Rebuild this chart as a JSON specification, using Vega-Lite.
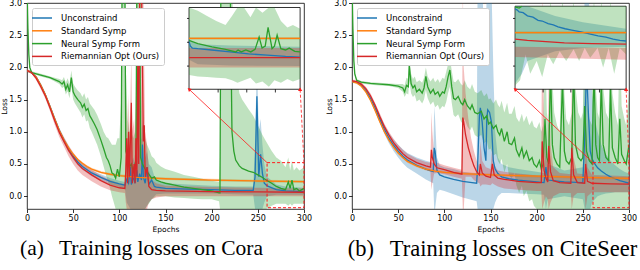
{
"$schema": "https://vega.github.io/schema/vega-lite/v6.json",
"padding": {"left": 0, "top": -2, "right": 0, "bottom": 0},
"spacing": 12,
"datasets": {
"m": [
{"p":"a","s":"U","x":0,"y":1.95,"l":1.93,"h":1.97},
{"p":"a","s":"U","x":5,"y":1.92,"l":1.9,"h":1.94},
{"p":"a","s":"U","x":10,"y":1.85,"l":1.83,"h":1.87},
{"p":"a","s":"U","x":15,"y":1.72,"l":1.69,"h":1.75},
{"p":"a","s":"U","x":20,"y":1.57,"l":1.54,"h":1.6},
{"p":"a","s":"U","x":25,"y":1.39,"l":1.36,"h":1.42},
{"p":"a","s":"U","x":30,"y":1.2,"l":1.16,"h":1.24},
{"p":"a","s":"U","x":35,"y":1.02,"l":0.98,"h":1.06},
{"p":"a","s":"U","x":40,"y":0.87,"l":0.82,"h":0.91},
{"p":"a","s":"U","x":45,"y":0.74,"l":0.69,"h":0.78},
{"p":"a","s":"U","x":50,"y":0.62,"l":0.57,"h":0.66},
{"p":"a","s":"U","x":55,"y":0.53,"l":0.48,"h":0.57},
{"p":"a","s":"U","x":60,"y":0.46,"l":0.41,"h":0.5},
{"p":"a","s":"U","x":70,"y":0.36,"l":0.31,"h":0.4},
{"p":"a","s":"U","x":80,"y":0.29,"l":0.24,"h":0.34},
{"p":"a","s":"U","x":90,"y":0.23,"l":0.18,"h":0.28},
{"p":"a","s":"U","x":100,"y":0.19,"l":0.14,"h":0.24},
{"p":"a","s":"U","x":106,"y":0.17,"l":0.12,"h":0.22},
{"p":"a","s":"U","x":108,"y":0.26,"l":-0.1,"h":0.5},
{"p":"a","s":"U","x":110,"y":0.2,"l":-0.15,"h":0.55},
{"p":"a","s":"U","x":112,"y":0.45,"l":-0.2,"h":0.8},
{"p":"a","s":"U","x":113,"y":0.18,"l":-0.2,"h":0.5},
{"p":"a","s":"U","x":115,"y":0.3,"l":-0.2,"h":0.6},
{"p":"a","s":"U","x":117,"y":0.2,"l":-0.2,"h":0.5},
{"p":"a","s":"U","x":119,"y":0.4,"l":-0.2,"h":0.7},
{"p":"a","s":"U","x":120,"y":0.22,"l":-0.2,"h":0.6},
{"p":"a","s":"U","x":122,"y":0.35,"l":-0.2,"h":0.8},
{"p":"a","s":"U","x":124,"y":0.25,"l":-0.2,"h":0.9},
{"p":"a","s":"U","x":125,"y":0.8,"l":-0.2,"h":1.2},
{"p":"a","s":"U","x":126,"y":0.3,"l":-0.2,"h":0.8},
{"p":"a","s":"U","x":128,"y":0.2,"l":-0.2,"h":0.6},
{"p":"a","s":"U","x":130,"y":0.45,"l":-0.15,"h":0.7},
{"p":"a","s":"U","x":132,"y":0.18,"l":-0.1,"h":0.5},
{"p":"a","s":"U","x":135,"y":0.25,"l":-0.05,"h":0.45},
{"p":"a","s":"U","x":138,"y":0.15,"l":0.0,"h":0.3},
{"p":"a","s":"U","x":140,"y":0.14,"l":0.03,"h":0.25},
{"p":"a","s":"U","x":150,"y":0.12,"l":0.04,"h":0.2},
{"p":"a","s":"U","x":175,"y":0.11,"l":0.04,"h":0.18},
{"p":"a","s":"U","x":200,"y":0.1,"l":0.04,"h":0.16},
{"p":"a","s":"U","x":225,"y":0.09,"l":0.03,"h":0.15},
{"p":"a","s":"U","x":245,"y":0.09,"l":0.02,"h":0.15},
{"p":"a","s":"U","x":247,"y":0.3,"l":-0.2,"h":0.8},
{"p":"a","s":"U","x":249,"y":1.55,"l":-0.2,"h":2.2},
{"p":"a","s":"U","x":251,"y":0.3,"l":-0.2,"h":1.0},
{"p":"a","s":"U","x":253,"y":0.65,"l":-0.2,"h":1.2},
{"p":"a","s":"U","x":255,"y":0.35,"l":-0.2,"h":0.8},
{"p":"a","s":"U","x":257,"y":0.2,"l":-0.1,"h":0.5},
{"p":"a","s":"U","x":260,"y":0.16,"l":0.0,"h":0.3},
{"p":"a","s":"U","x":270,"y":0.1,"l":0.02,"h":0.18},
{"p":"a","s":"U","x":280,"y":0.08,"l":0.02,"h":0.15},
{"p":"a","s":"U","x":300,"y":0.07,"l":0.02,"h":0.13},
{"p":"a","s":"S","x":0,"y":1.95,"l":1.93,"h":1.97},
{"p":"a","s":"S","x":5,"y":1.92,"l":1.9,"h":1.94},
{"p":"a","s":"S","x":10,"y":1.85,"l":1.83,"h":1.87},
{"p":"a","s":"S","x":15,"y":1.72,"l":1.7,"h":1.74},
{"p":"a","s":"S","x":20,"y":1.57,"l":1.55,"h":1.59},
{"p":"a","s":"S","x":25,"y":1.39,"l":1.37,"h":1.41},
{"p":"a","s":"S","x":30,"y":1.2,"l":1.18,"h":1.22},
{"p":"a","s":"S","x":35,"y":1.02,"l":1.0,"h":1.04},
{"p":"a","s":"S","x":40,"y":0.87,"l":0.85,"h":0.89},
{"p":"a","s":"S","x":45,"y":0.75,"l":0.73,"h":0.77},
{"p":"a","s":"S","x":50,"y":0.65,"l":0.63,"h":0.67},
{"p":"a","s":"S","x":55,"y":0.57,"l":0.55,"h":0.59},
{"p":"a","s":"S","x":60,"y":0.51,"l":0.49,"h":0.53},
{"p":"a","s":"S","x":65,"y":0.46,"l":0.44,"h":0.48},
{"p":"a","s":"S","x":70,"y":0.42,"l":0.4,"h":0.44},
{"p":"a","s":"S","x":80,"y":0.37,"l":0.35,"h":0.39},
{"p":"a","s":"S","x":90,"y":0.34,"l":0.32,"h":0.36},
{"p":"a","s":"S","x":100,"y":0.32,"l":0.3,"h":0.34},
{"p":"a","s":"S","x":120,"y":0.29,"l":0.27,"h":0.31},
{"p":"a","s":"S","x":150,"y":0.27,"l":0.25,"h":0.29},
{"p":"a","s":"S","x":200,"y":0.25,"l":0.23,"h":0.27},
{"p":"a","s":"S","x":250,"y":0.235,"l":0.215,"h":0.255},
{"p":"a","s":"S","x":300,"y":0.225,"l":0.205,"h":0.245},
{"p":"a","s":"N","x":0,"y":3.3,"l":3.2,"h":3.4},
{"p":"a","s":"N","x":1,"y":2.6,"l":2.5,"h":2.7},
{"p":"a","s":"N","x":2,"y":2.2,"l":2.15,"h":2.25},
{"p":"a","s":"N","x":3,"y":2.0,"l":1.97,"h":2.03},
{"p":"a","s":"N","x":5,"y":1.92,"l":1.9,"h":1.94},
{"p":"a","s":"N","x":10,"y":1.9,"l":1.88,"h":1.92},
{"p":"a","s":"N","x":15,"y":1.88,"l":1.86,"h":1.9},
{"p":"a","s":"N","x":20,"y":1.86,"l":1.84,"h":1.88},
{"p":"a","s":"N","x":25,"y":1.84,"l":1.82,"h":1.86},
{"p":"a","s":"N","x":30,"y":1.81,"l":1.78,"h":1.84},
{"p":"a","s":"N","x":35,"y":1.78,"l":1.74,"h":1.82},
{"p":"a","s":"N","x":38,"y":1.74,"l":1.68,"h":1.8},
{"p":"a","s":"N","x":40,"y":1.78,"l":1.7,"h":1.85},
{"p":"a","s":"N","x":42,"y":1.66,"l":1.58,"h":1.76},
{"p":"a","s":"N","x":44,"y":1.73,"l":1.63,"h":1.83},
{"p":"a","s":"N","x":46,"y":1.62,"l":1.52,"h":1.74},
{"p":"a","s":"N","x":48,"y":1.84,"l":1.7,"h":1.95},
{"p":"a","s":"N","x":50,"y":1.62,"l":1.5,"h":1.75},
{"p":"a","s":"N","x":52,"y":1.56,"l":1.44,"h":1.7},
{"p":"a","s":"N","x":55,"y":1.5,"l":1.37,"h":1.64},
{"p":"a","s":"N","x":58,"y":1.45,"l":1.3,"h":1.6},
{"p":"a","s":"N","x":60,"y":1.38,"l":1.22,"h":1.54},
{"p":"a","s":"N","x":62,"y":1.43,"l":1.27,"h":1.6},
{"p":"a","s":"N","x":64,"y":1.33,"l":1.16,"h":1.5},
{"p":"a","s":"N","x":66,"y":1.36,"l":1.18,"h":1.54},
{"p":"a","s":"N","x":68,"y":1.25,"l":1.06,"h":1.44},
{"p":"a","s":"N","x":70,"y":1.2,"l":1.0,"h":1.4},
{"p":"a","s":"N","x":73,"y":1.12,"l":0.9,"h":1.34},
{"p":"a","s":"N","x":76,"y":1.03,"l":0.8,"h":1.26},
{"p":"a","s":"N","x":80,"y":0.87,"l":0.62,"h":1.12},
{"p":"a","s":"N","x":83,"y":0.74,"l":0.46,"h":1.0},
{"p":"a","s":"N","x":86,"y":0.6,"l":0.3,"h":0.92},
{"p":"a","s":"N","x":88,"y":0.55,"l":0.22,"h":0.9},
{"p":"a","s":"N","x":90,"y":0.47,"l":0.12,"h":0.85},
{"p":"a","s":"N","x":92,"y":0.36,"l":0.0,"h":0.8},
{"p":"a","s":"N","x":94,"y":0.34,"l":-0.1,"h":0.8},
{"p":"a","s":"N","x":96,"y":0.28,"l":-0.2,"h":0.8},
{"p":"a","s":"N","x":98,"y":0.42,"l":-0.2,"h":0.9},
{"p":"a","s":"N","x":100,"y":0.3,"l":-0.2,"h":0.9},
{"p":"a","s":"N","x":102,"y":0.6,"l":-0.2,"h":1.5},
{"p":"a","s":"N","x":103,"y":3.4,"l":-0.2,"h":3.4},
{"p":"a","s":"N","x":106,"y":3.4,"l":-0.2,"h":3.4},
{"p":"a","s":"N","x":107,"y":0.7,"l":-0.2,"h":2.0},
{"p":"a","s":"N","x":109,"y":0.6,"l":-0.2,"h":1.2},
{"p":"a","s":"N","x":111,"y":0.45,"l":-0.2,"h":1.0},
{"p":"a","s":"N","x":113,"y":0.5,"l":-0.2,"h":1.0},
{"p":"a","s":"N","x":115,"y":0.38,"l":-0.2,"h":0.9},
{"p":"a","s":"N","x":117,"y":0.5,"l":-0.2,"h":1.0},
{"p":"a","s":"N","x":118,"y":0.45,"l":-0.2,"h":1.5},
{"p":"a","s":"N","x":119,"y":3.4,"l":-0.2,"h":3.4},
{"p":"a","s":"N","x":122,"y":3.4,"l":-0.2,"h":3.4},
{"p":"a","s":"N","x":123,"y":0.6,"l":-0.2,"h":2.0},
{"p":"a","s":"N","x":125,"y":0.5,"l":-0.2,"h":1.1},
{"p":"a","s":"N","x":128,"y":0.42,"l":-0.2,"h":0.9},
{"p":"a","s":"N","x":130,"y":0.38,"l":-0.15,"h":0.8},
{"p":"a","s":"N","x":133,"y":0.32,"l":-0.1,"h":0.7},
{"p":"a","s":"N","x":135,"y":0.28,"l":-0.05,"h":0.62},
{"p":"a","s":"N","x":138,"y":0.3,"l":-0.02,"h":0.58},
{"p":"a","s":"N","x":140,"y":0.25,"l":0.0,"h":0.52},
{"p":"a","s":"N","x":145,"y":0.22,"l":0.0,"h":0.46},
{"p":"a","s":"N","x":150,"y":0.2,"l":0.0,"h":0.42},
{"p":"a","s":"N","x":160,"y":0.17,"l":-0.02,"h":0.38},
{"p":"a","s":"N","x":170,"y":0.14,"l":-0.03,"h":0.33},
{"p":"a","s":"N","x":180,"y":0.12,"l":-0.04,"h":0.3},
{"p":"a","s":"N","x":190,"y":0.1,"l":-0.05,"h":0.27},
{"p":"a","s":"N","x":200,"y":0.08,"l":-0.05,"h":0.24},
{"p":"a","s":"N","x":208,"y":0.05,"l":-0.08,"h":0.22},
{"p":"a","s":"N","x":209,"y":0.05,"l":-0.2,"h":0.6},
{"p":"a","s":"N","x":210,"y":3.4,"l":-0.3,"h":3.4},
{"p":"a","s":"N","x":220,"y":3.4,"l":-0.3,"h":3.4},
{"p":"a","s":"N","x":222,"y":1.0,"l":-0.3,"h":3.2},
{"p":"a","s":"N","x":224,"y":0.7,"l":-0.3,"h":2.6},
{"p":"a","s":"N","x":226,"y":0.56,"l":-0.3,"h":2.0},
{"p":"a","s":"N","x":230,"y":0.47,"l":-0.3,"h":1.6},
{"p":"a","s":"N","x":233,"y":0.43,"l":-0.3,"h":1.5},
{"p":"a","s":"N","x":240,"y":0.39,"l":-0.3,"h":1.35},
{"p":"a","s":"N","x":245,"y":0.37,"l":-0.3,"h":1.25},
{"p":"a","s":"N","x":250,"y":0.33,"l":-0.3,"h":1.1},
{"p":"a","s":"N","x":255,"y":0.29,"l":-0.25,"h":0.95},
{"p":"a","s":"N","x":259,"y":0.25,"l":-0.2,"h":0.85},
{"p":"a","s":"N","x":265,"y":0.2,"l":-0.15,"h":0.7},
{"p":"a","s":"N","x":270,"y":0.15,"l":-0.12,"h":0.6},
{"p":"a","s":"N","x":275,"y":0.12,"l":-0.12,"h":0.55},
{"p":"a","s":"N","x":280,"y":0.1,"l":-0.12,"h":0.45},
{"p":"a","s":"N","x":283,"y":0.22,"l":-0.15,"h":0.6},
{"p":"a","s":"N","x":285,"y":0.12,"l":-0.12,"h":0.4},
{"p":"a","s":"N","x":287,"y":0.25,"l":-0.15,"h":0.55},
{"p":"a","s":"N","x":289,"y":0.1,"l":-0.12,"h":0.4},
{"p":"a","s":"N","x":292,"y":0.12,"l":-0.12,"h":0.45},
{"p":"a","s":"N","x":295,"y":0.08,"l":-0.12,"h":0.4},
{"p":"a","s":"N","x":300,"y":0.12,"l":-0.12,"h":0.45},
{"p":"a","s":"R","x":0,"y":1.95,"l":1.93,"h":1.97},
{"p":"a","s":"R","x":5,"y":1.92,"l":1.9,"h":1.94},
{"p":"a","s":"R","x":10,"y":1.83,"l":1.8,"h":1.86},
{"p":"a","s":"R","x":15,"y":1.7,"l":1.66,"h":1.74},
{"p":"a","s":"R","x":20,"y":1.55,"l":1.51,"h":1.59},
{"p":"a","s":"R","x":25,"y":1.37,"l":1.32,"h":1.42},
{"p":"a","s":"R","x":30,"y":1.17,"l":1.11,"h":1.23},
{"p":"a","s":"R","x":35,"y":0.99,"l":0.92,"h":1.05},
{"p":"a","s":"R","x":40,"y":0.85,"l":0.77,"h":0.92},
{"p":"a","s":"R","x":45,"y":0.71,"l":0.62,"h":0.79},
{"p":"a","s":"R","x":50,"y":0.6,"l":0.5,"h":0.68},
{"p":"a","s":"R","x":55,"y":0.5,"l":0.4,"h":0.58},
{"p":"a","s":"R","x":60,"y":0.43,"l":0.33,"h":0.51},
{"p":"a","s":"R","x":70,"y":0.33,"l":0.23,"h":0.41},
{"p":"a","s":"R","x":80,"y":0.24,"l":0.15,"h":0.32},
{"p":"a","s":"R","x":90,"y":0.17,"l":0.09,"h":0.25},
{"p":"a","s":"R","x":100,"y":0.13,"l":0.06,"h":0.2},
{"p":"a","s":"R","x":106,"y":0.12,"l":0.05,"h":0.19},
{"p":"a","s":"R","x":107,"y":0.4,"l":-0.1,"h":0.8},
{"p":"a","s":"R","x":108,"y":0.9,"l":-0.2,"h":1.5},
{"p":"a","s":"R","x":109,"y":0.2,"l":-0.2,"h":0.8},
{"p":"a","s":"R","x":110,"y":1.0,"l":-0.2,"h":1.6},
{"p":"a","s":"R","x":111,"y":0.3,"l":-0.2,"h":0.9},
{"p":"a","s":"R","x":113,"y":1.45,"l":-0.2,"h":2.2},
{"p":"a","s":"R","x":114,"y":0.2,"l":-0.2,"h":1.0},
{"p":"a","s":"R","x":116,"y":0.5,"l":-0.2,"h":1.2},
{"p":"a","s":"R","x":117,"y":0.2,"l":-0.2,"h":0.8},
{"p":"a","s":"R","x":118,"y":0.9,"l":-0.2,"h":1.8},
{"p":"a","s":"R","x":119,"y":0.3,"l":-0.2,"h":1.0},
{"p":"a","s":"R","x":120,"y":2.1,"l":-0.2,"h":3.2},
{"p":"a","s":"R","x":121,"y":0.5,"l":-0.2,"h":2.0},
{"p":"a","s":"R","x":122,"y":3.3,"l":-0.2,"h":3.3},
{"p":"a","s":"R","x":124,"y":3.3,"l":-0.2,"h":3.3},
{"p":"a","s":"R","x":125,"y":2.1,"l":-0.2,"h":3.3},
{"p":"a","s":"R","x":126,"y":0.85,"l":-0.2,"h":3.3},
{"p":"a","s":"R","x":127,"y":1.1,"l":-0.2,"h":2.0},
{"p":"a","s":"R","x":128,"y":0.3,"l":-0.2,"h":1.0},
{"p":"a","s":"R","x":130,"y":0.45,"l":-0.2,"h":0.8},
{"p":"a","s":"R","x":132,"y":0.15,"l":-0.1,"h":0.4},
{"p":"a","s":"R","x":135,"y":0.1,"l":-0.05,"h":0.25},
{"p":"a","s":"R","x":140,"y":0.09,"l":-0.02,"h":0.2},
{"p":"a","s":"R","x":150,"y":0.08,"l":0.0,"h":0.16},
{"p":"a","s":"R","x":200,"y":0.07,"l":0.0,"h":0.14},
{"p":"a","s":"R","x":250,"y":0.065,"l":0.0,"h":0.13},
{"p":"a","s":"R","x":300,"y":0.06,"l":0.0,"h":0.12},
{"p":"b","s":"U","x":0,"y":1.78,"l":1.76,"h":1.8},
{"p":"b","s":"U","x":5,"y":1.77,"l":1.75,"h":1.79},
{"p":"b","s":"U","x":10,"y":1.72,"l":1.7,"h":1.75},
{"p":"b","s":"U","x":15,"y":1.64,"l":1.61,"h":1.67},
{"p":"b","s":"U","x":20,"y":1.52,"l":1.48,"h":1.56},
{"p":"b","s":"U","x":25,"y":1.37,"l":1.32,"h":1.42},
{"p":"b","s":"U","x":30,"y":1.2,"l":1.14,"h":1.26},
{"p":"b","s":"U","x":35,"y":1.04,"l":0.97,"h":1.11},
{"p":"b","s":"U","x":40,"y":0.9,"l":0.82,"h":0.98},
{"p":"b","s":"U","x":45,"y":0.79,"l":0.7,"h":0.88},
{"p":"b","s":"U","x":50,"y":0.7,"l":0.6,"h":0.8},
{"p":"b","s":"U","x":55,"y":0.62,"l":0.51,"h":0.73},
{"p":"b","s":"U","x":60,"y":0.56,"l":0.44,"h":0.67},
{"p":"b","s":"U","x":70,"y":0.48,"l":0.35,"h":0.6},
{"p":"b","s":"U","x":80,"y":0.42,"l":0.26,"h":0.55},
{"p":"b","s":"U","x":88,"y":0.38,"l":0.2,"h":0.52},
{"p":"b","s":"U","x":89,"y":0.75,"l":-0.2,"h":1.4},
{"p":"b","s":"U","x":90,"y":0.7,"l":-0.2,"h":1.2},
{"p":"b","s":"U","x":92,"y":0.4,"l":0.05,"h":0.6},
{"p":"b","s":"U","x":95,"y":0.33,"l":0.1,"h":0.48},
{"p":"b","s":"U","x":100,"y":0.3,"l":0.08,"h":0.45},
{"p":"b","s":"U","x":110,"y":0.26,"l":0.03,"h":0.42},
{"p":"b","s":"U","x":120,"y":0.23,"l":-0.02,"h":0.38},
{"p":"b","s":"U","x":130,"y":0.21,"l":-0.06,"h":0.36},
{"p":"b","s":"U","x":135,"y":0.2,"l":-0.08,"h":0.36},
{"p":"b","s":"U","x":136,"y":0.45,"l":-0.2,"h":3.3},
{"p":"b","s":"U","x":138,"y":1.25,"l":-0.2,"h":3.3},
{"p":"b","s":"U","x":139,"y":1.37,"l":-0.2,"h":3.3},
{"p":"b","s":"U","x":141,"y":1.15,"l":-0.2,"h":3.3},
{"p":"b","s":"U","x":143,"y":0.75,"l":-0.2,"h":2.5},
{"p":"b","s":"U","x":145,"y":0.55,"l":-0.2,"h":2.5},
{"p":"b","s":"U","x":146,"y":1.2,"l":-0.2,"h":3.3},
{"p":"b","s":"U","x":147,"y":1.34,"l":-0.2,"h":3.3},
{"p":"b","s":"U","x":149,"y":1.3,"l":-0.2,"h":3.3},
{"p":"b","s":"U","x":151,"y":1.15,"l":-0.2,"h":3.3},
{"p":"b","s":"U","x":153,"y":0.55,"l":-0.2,"h":2.0},
{"p":"b","s":"U","x":155,"y":0.42,"l":-0.1,"h":1.0},
{"p":"b","s":"U","x":158,"y":0.35,"l":0.0,"h":0.6},
{"p":"b","s":"U","x":162,"y":0.3,"l":0.05,"h":0.5},
{"p":"b","s":"U","x":170,"y":0.27,"l":0.05,"h":0.45},
{"p":"b","s":"U","x":180,"y":0.25,"l":0.04,"h":0.42},
{"p":"b","s":"U","x":200,"y":0.22,"l":0.03,"h":0.38},
{"p":"b","s":"U","x":208,"y":0.21,"l":0.02,"h":0.36},
{"p":"b","s":"U","x":210,"y":0.45,"l":-0.2,"h":1.0},
{"p":"b","s":"U","x":212,"y":0.25,"l":-0.05,"h":0.5},
{"p":"b","s":"U","x":230,"y":0.22,"l":0.0,"h":0.4},
{"p":"b","s":"U","x":250,"y":0.21,"l":-0.05,"h":0.45},
{"p":"b","s":"U","x":252,"y":0.9,"l":-0.2,"h":3.3},
{"p":"b","s":"U","x":254,"y":2.0,"l":-0.2,"h":3.3},
{"p":"b","s":"U","x":256,"y":1.3,"l":-0.2,"h":3.3},
{"p":"b","s":"U","x":258,"y":0.7,"l":-0.2,"h":2.5},
{"p":"b","s":"U","x":260,"y":0.58,"l":-0.1,"h":1.6},
{"p":"b","s":"U","x":263,"y":0.5,"l":-0.05,"h":1.2},
{"p":"b","s":"U","x":266,"y":0.44,"l":0.0,"h":1.0},
{"p":"b","s":"U","x":270,"y":0.39,"l":0.02,"h":0.8},
{"p":"b","s":"U","x":275,"y":0.34,"l":0.04,"h":0.65},
{"p":"b","s":"U","x":280,"y":0.3,"l":0.05,"h":0.55},
{"p":"b","s":"U","x":285,"y":0.27,"l":0.06,"h":0.48},
{"p":"b","s":"U","x":290,"y":0.24,"l":0.06,"h":0.42},
{"p":"b","s":"U","x":295,"y":0.22,"l":0.06,"h":0.38},
{"p":"b","s":"U","x":300,"y":0.2,"l":0.06,"h":0.35},
{"p":"b","s":"S","x":0,"y":1.78,"l":1.76,"h":1.8},
{"p":"b","s":"S","x":5,"y":1.76,"l":1.74,"h":1.78},
{"p":"b","s":"S","x":10,"y":1.71,"l":1.69,"h":1.73},
{"p":"b","s":"S","x":15,"y":1.62,"l":1.6,"h":1.64},
{"p":"b","s":"S","x":20,"y":1.49,"l":1.47,"h":1.51},
{"p":"b","s":"S","x":25,"y":1.33,"l":1.31,"h":1.35},
{"p":"b","s":"S","x":30,"y":1.16,"l":1.14,"h":1.18},
{"p":"b","s":"S","x":35,"y":1.0,"l":0.98,"h":1.02},
{"p":"b","s":"S","x":40,"y":0.87,"l":0.85,"h":0.89},
{"p":"b","s":"S","x":45,"y":0.76,"l":0.74,"h":0.78},
{"p":"b","s":"S","x":50,"y":0.67,"l":0.65,"h":0.69},
{"p":"b","s":"S","x":55,"y":0.6,"l":0.58,"h":0.62},
{"p":"b","s":"S","x":60,"y":0.54,"l":0.52,"h":0.56},
{"p":"b","s":"S","x":70,"y":0.47,"l":0.45,"h":0.49},
{"p":"b","s":"S","x":80,"y":0.42,"l":0.4,"h":0.44},
{"p":"b","s":"S","x":90,"y":0.39,"l":0.37,"h":0.41},
{"p":"b","s":"S","x":100,"y":0.37,"l":0.35,"h":0.39},
{"p":"b","s":"S","x":120,"y":0.35,"l":0.33,"h":0.37},
{"p":"b","s":"S","x":150,"y":0.33,"l":0.31,"h":0.35},
{"p":"b","s":"S","x":200,"y":0.31,"l":0.29,"h":0.33},
{"p":"b","s":"S","x":250,"y":0.29,"l":0.27,"h":0.31},
{"p":"b","s":"S","x":300,"y":0.275,"l":0.255,"h":0.295},
{"p":"b","s":"N","x":0,"y":3.3,"l":3.2,"h":3.4},
{"p":"b","s":"N","x":1,"y":2.6,"l":2.5,"h":2.7},
{"p":"b","s":"N","x":2,"y":2.1,"l":2.05,"h":2.15},
{"p":"b","s":"N","x":3,"y":1.9,"l":1.87,"h":1.93},
{"p":"b","s":"N","x":5,"y":1.8,"l":1.78,"h":1.82},
{"p":"b","s":"N","x":10,"y":1.77,"l":1.75,"h":1.79},
{"p":"b","s":"N","x":20,"y":1.75,"l":1.73,"h":1.77},
{"p":"b","s":"N","x":30,"y":1.74,"l":1.72,"h":1.76},
{"p":"b","s":"N","x":40,"y":1.73,"l":1.71,"h":1.75},
{"p":"b","s":"N","x":50,"y":1.71,"l":1.68,"h":1.74},
{"p":"b","s":"N","x":55,"y":1.68,"l":1.62,"h":1.74},
{"p":"b","s":"N","x":57,"y":1.62,"l":1.54,"h":1.72},
{"p":"b","s":"N","x":59,"y":1.72,"l":1.6,"h":1.84},
{"p":"b","s":"N","x":61,"y":1.7,"l":1.58,"h":1.82},
{"p":"b","s":"N","x":62,"y":2.03,"l":1.8,"h":2.2},
{"p":"b","s":"N","x":64,"y":1.75,"l":1.6,"h":1.9},
{"p":"b","s":"N","x":66,"y":1.68,"l":1.54,"h":1.82},
{"p":"b","s":"N","x":68,"y":1.72,"l":1.57,"h":1.86},
{"p":"b","s":"N","x":70,"y":1.62,"l":1.47,"h":1.77},
{"p":"b","s":"N","x":73,"y":1.66,"l":1.5,"h":1.8},
{"p":"b","s":"N","x":76,"y":1.6,"l":1.44,"h":1.76},
{"p":"b","s":"N","x":78,"y":1.68,"l":1.5,"h":1.84},
{"p":"b","s":"N","x":80,"y":1.86,"l":1.65,"h":2.0},
{"p":"b","s":"N","x":82,"y":1.7,"l":1.52,"h":1.86},
{"p":"b","s":"N","x":85,"y":1.6,"l":1.42,"h":1.78},
{"p":"b","s":"N","x":88,"y":1.66,"l":1.47,"h":1.84},
{"p":"b","s":"N","x":90,"y":1.58,"l":1.38,"h":1.77},
{"p":"b","s":"N","x":93,"y":1.62,"l":1.42,"h":1.82},
{"p":"b","s":"N","x":95,"y":1.55,"l":1.34,"h":1.76},
{"p":"b","s":"N","x":98,"y":1.62,"l":1.4,"h":1.84},
{"p":"b","s":"N","x":100,"y":1.6,"l":1.38,"h":1.82},
{"p":"b","s":"N","x":102,"y":1.7,"l":1.46,"h":1.93},
{"p":"b","s":"N","x":104,"y":1.85,"l":1.6,"h":2.05},
{"p":"b","s":"N","x":106,"y":1.96,"l":1.7,"h":2.15},
{"p":"b","s":"N","x":108,"y":1.7,"l":1.45,"h":1.95},
{"p":"b","s":"N","x":110,"y":1.52,"l":1.26,"h":1.78},
{"p":"b","s":"N","x":112,"y":1.5,"l":1.23,"h":1.77},
{"p":"b","s":"N","x":115,"y":1.55,"l":1.27,"h":1.82},
{"p":"b","s":"N","x":118,"y":1.45,"l":1.16,"h":1.74},
{"p":"b","s":"N","x":120,"y":1.42,"l":1.12,"h":1.72},
{"p":"b","s":"N","x":122,"y":1.5,"l":1.2,"h":1.8},
{"p":"b","s":"N","x":125,"y":1.4,"l":1.08,"h":1.7},
{"p":"b","s":"N","x":128,"y":1.35,"l":1.02,"h":1.66},
{"p":"b","s":"N","x":130,"y":1.42,"l":1.08,"h":1.74},
{"p":"b","s":"N","x":133,"y":1.3,"l":0.95,"h":1.62},
{"p":"b","s":"N","x":136,"y":1.28,"l":0.92,"h":1.6},
{"p":"b","s":"N","x":140,"y":1.32,"l":0.95,"h":1.65},
{"p":"b","s":"N","x":143,"y":1.2,"l":0.82,"h":1.55},
{"p":"b","s":"N","x":146,"y":1.25,"l":0.86,"h":1.6},
{"p":"b","s":"N","x":148,"y":1.12,"l":0.72,"h":1.5},
{"p":"b","s":"N","x":150,"y":1.15,"l":0.74,"h":1.52},
{"p":"b","s":"N","x":153,"y":1.05,"l":0.63,"h":1.44},
{"p":"b","s":"N","x":156,"y":1.1,"l":0.66,"h":1.5},
{"p":"b","s":"N","x":158,"y":1.0,"l":0.55,"h":1.42},
{"p":"b","s":"N","x":160,"y":0.95,"l":0.5,"h":1.38},
{"p":"b","s":"N","x":162,"y":1.05,"l":0.58,"h":1.48},
{"p":"b","s":"N","x":165,"y":0.85,"l":0.37,"h":1.3},
{"p":"b","s":"N","x":168,"y":1.0,"l":0.5,"h":1.45},
{"p":"b","s":"N","x":170,"y":0.82,"l":0.32,"h":1.28},
{"p":"b","s":"N","x":173,"y":0.8,"l":0.28,"h":1.28},
{"p":"b","s":"N","x":176,"y":0.9,"l":0.36,"h":1.4},
{"p":"b","s":"N","x":178,"y":0.72,"l":0.17,"h":1.22},
{"p":"b","s":"N","x":181,"y":0.62,"l":0.05,"h":1.15},
{"p":"b","s":"N","x":184,"y":0.75,"l":0.16,"h":1.28},
{"p":"b","s":"N","x":186,"y":0.6,"l":0.0,"h":1.15},
{"p":"b","s":"N","x":189,"y":0.7,"l":0.08,"h":1.25},
{"p":"b","s":"N","x":192,"y":0.55,"l":-0.08,"h":1.1},
{"p":"b","s":"N","x":195,"y":0.6,"l":-0.05,"h":1.18},
{"p":"b","s":"N","x":197,"y":0.5,"l":-0.15,"h":1.08},
{"p":"b","s":"N","x":200,"y":0.45,"l":-0.2,"h":1.05},
{"p":"b","s":"N","x":203,"y":0.55,"l":-0.2,"h":1.15},
{"p":"b","s":"N","x":205,"y":0.42,"l":-0.2,"h":1.0},
{"p":"b","s":"N","x":207,"y":0.5,"l":-0.2,"h":1.1},
{"p":"b","s":"N","x":209,"y":1.2,"l":-0.2,"h":2.5},
{"p":"b","s":"N","x":211,"y":0.6,"l":-0.2,"h":1.3},
{"p":"b","s":"N","x":213,"y":0.5,"l":-0.2,"h":1.1},
{"p":"b","s":"N","x":215,"y":2.0,"l":-0.2,"h":3.3},
{"p":"b","s":"N","x":217,"y":0.8,"l":-0.2,"h":1.8},
{"p":"b","s":"N","x":219,"y":0.6,"l":-0.2,"h":1.3},
{"p":"b","s":"N","x":222,"y":0.5,"l":-0.2,"h":1.1},
{"p":"b","s":"N","x":225,"y":0.45,"l":-0.2,"h":1.0},
{"p":"b","s":"N","x":228,"y":1.8,"l":-0.2,"h":3.3},
{"p":"b","s":"N","x":230,"y":0.7,"l":-0.2,"h":1.6},
{"p":"b","s":"N","x":232,"y":0.55,"l":-0.2,"h":1.2},
{"p":"b","s":"N","x":235,"y":0.5,"l":-0.2,"h":1.1},
{"p":"b","s":"N","x":238,"y":0.6,"l":-0.2,"h":1.3},
{"p":"b","s":"N","x":240,"y":2.0,"l":-0.2,"h":3.3},
{"p":"b","s":"N","x":242,"y":0.8,"l":-0.2,"h":1.7},
{"p":"b","s":"N","x":245,"y":0.6,"l":-0.2,"h":1.3},
{"p":"b","s":"N","x":248,"y":0.55,"l":-0.2,"h":1.2},
{"p":"b","s":"N","x":250,"y":0.6,"l":-0.2,"h":1.3},
{"p":"b","s":"N","x":252,"y":1.4,"l":-0.2,"h":2.8},
{"p":"b","s":"N","x":254,"y":0.7,"l":-0.2,"h":1.5},
{"p":"b","s":"N","x":257,"y":0.55,"l":-0.2,"h":1.2},
{"p":"b","s":"N","x":260,"y":0.5,"l":-0.2,"h":1.1},
{"p":"b","s":"N","x":262,"y":2.0,"l":-0.2,"h":3.3},
{"p":"b","s":"N","x":264,"y":0.8,"l":-0.2,"h":1.7},
{"p":"b","s":"N","x":266,"y":0.6,"l":-0.2,"h":1.3},
{"p":"b","s":"N","x":268,"y":0.55,"l":-0.2,"h":1.2},
{"p":"b","s":"N","x":270,"y":1.8,"l":-0.2,"h":3.3},
{"p":"b","s":"N","x":272,"y":0.8,"l":-0.2,"h":1.7},
{"p":"b","s":"N","x":275,"y":0.6,"l":-0.2,"h":1.3},
{"p":"b","s":"N","x":278,"y":0.55,"l":-0.2,"h":1.2},
{"p":"b","s":"N","x":280,"y":1.7,"l":-0.2,"h":3.3},
{"p":"b","s":"N","x":282,"y":0.75,"l":-0.2,"h":1.6},
{"p":"b","s":"N","x":285,"y":0.6,"l":-0.2,"h":1.3},
{"p":"b","s":"N","x":288,"y":0.5,"l":-0.2,"h":1.1},
{"p":"b","s":"N","x":290,"y":1.2,"l":-0.2,"h":2.6},
{"p":"b","s":"N","x":292,"y":0.65,"l":-0.2,"h":1.4},
{"p":"b","s":"N","x":295,"y":0.55,"l":-0.2,"h":1.2},
{"p":"b","s":"N","x":297,"y":0.5,"l":-0.2,"h":1.1},
{"p":"b","s":"N","x":300,"y":0.8,"l":-0.2,"h":1.6},
{"p":"b","s":"R","x":0,"y":1.79,"l":1.77,"h":1.81},
{"p":"b","s":"R","x":5,"y":1.78,"l":1.76,"h":1.8},
{"p":"b","s":"R","x":10,"y":1.74,"l":1.72,"h":1.77},
{"p":"b","s":"R","x":15,"y":1.67,"l":1.64,"h":1.7},
{"p":"b","s":"R","x":20,"y":1.56,"l":1.52,"h":1.6},
{"p":"b","s":"R","x":25,"y":1.41,"l":1.37,"h":1.45},
{"p":"b","s":"R","x":30,"y":1.24,"l":1.19,"h":1.29},
{"p":"b","s":"R","x":35,"y":1.08,"l":1.03,"h":1.13},
{"p":"b","s":"R","x":40,"y":0.95,"l":0.9,"h":1.0},
{"p":"b","s":"R","x":45,"y":0.83,"l":0.78,"h":0.89},
{"p":"b","s":"R","x":50,"y":0.74,"l":0.68,"h":0.8},
{"p":"b","s":"R","x":55,"y":0.66,"l":0.6,"h":0.72},
{"p":"b","s":"R","x":60,"y":0.6,"l":0.54,"h":0.66},
{"p":"b","s":"R","x":70,"y":0.52,"l":0.46,"h":0.58},
{"p":"b","s":"R","x":80,"y":0.47,"l":0.41,"h":0.53},
{"p":"b","s":"R","x":85,"y":0.45,"l":0.38,"h":0.52},
{"p":"b","s":"R","x":86,"y":0.72,"l":0.1,"h":1.3},
{"p":"b","s":"R","x":87,"y":0.6,"l":0.2,"h":1.0},
{"p":"b","s":"R","x":89,"y":0.5,"l":0.35,"h":0.65},
{"p":"b","s":"R","x":92,"y":0.44,"l":0.36,"h":0.52},
{"p":"b","s":"R","x":100,"y":0.41,"l":0.34,"h":0.48},
{"p":"b","s":"R","x":110,"y":0.37,"l":0.3,"h":0.44},
{"p":"b","s":"R","x":119,"y":0.34,"l":0.27,"h":0.41},
{"p":"b","s":"R","x":120,"y":1.22,"l":-0.2,"h":3.3},
{"p":"b","s":"R","x":121,"y":1.15,"l":-0.2,"h":2.0},
{"p":"b","s":"R","x":123,"y":0.95,"l":0.3,"h":1.6},
{"p":"b","s":"R","x":126,"y":0.75,"l":0.3,"h":1.2},
{"p":"b","s":"R","x":129,"y":0.6,"l":0.3,"h":0.9},
{"p":"b","s":"R","x":132,"y":0.47,"l":0.25,"h":0.7},
{"p":"b","s":"R","x":135,"y":0.38,"l":0.22,"h":0.55},
{"p":"b","s":"R","x":138,"y":0.33,"l":0.2,"h":0.46},
{"p":"b","s":"R","x":139,"y":0.5,"l":0.15,"h":0.85},
{"p":"b","s":"R","x":141,"y":0.36,"l":0.18,"h":0.55},
{"p":"b","s":"R","x":145,"y":0.31,"l":0.18,"h":0.45},
{"p":"b","s":"R","x":150,"y":0.29,"l":0.17,"h":0.42},
{"p":"b","s":"R","x":152,"y":0.5,"l":0.2,"h":0.8},
{"p":"b","s":"R","x":154,"y":0.33,"l":0.18,"h":0.48},
{"p":"b","s":"R","x":158,"y":0.28,"l":0.15,"h":0.4},
{"p":"b","s":"R","x":165,"y":0.26,"l":0.12,"h":0.38},
{"p":"b","s":"R","x":180,"y":0.23,"l":0.1,"h":0.35},
{"p":"b","s":"R","x":200,"y":0.21,"l":0.08,"h":0.32},
{"p":"b","s":"R","x":205,"y":0.21,"l":0.08,"h":0.32},
{"p":"b","s":"R","x":206,"y":0.85,"l":-0.2,"h":3.3},
{"p":"b","s":"R","x":208,"y":0.4,"l":-0.1,"h":1.0},
{"p":"b","s":"R","x":210,"y":0.28,"l":0.0,"h":0.6},
{"p":"b","s":"R","x":212,"y":0.22,"l":-0.05,"h":0.5},
{"p":"b","s":"R","x":213,"y":0.78,"l":-0.2,"h":2.0},
{"p":"b","s":"R","x":215,"y":0.38,"l":-0.1,"h":0.8},
{"p":"b","s":"R","x":218,"y":0.24,"l":0.0,"h":0.45},
{"p":"b","s":"R","x":225,"y":0.21,"l":0.05,"h":0.36},
{"p":"b","s":"R","x":237,"y":0.2,"l":0.05,"h":0.34},
{"p":"b","s":"R","x":238,"y":0.75,"l":-0.2,"h":1.8},
{"p":"b","s":"R","x":240,"y":0.33,"l":0.0,"h":0.6},
{"p":"b","s":"R","x":244,"y":0.21,"l":0.05,"h":0.35},
{"p":"b","s":"R","x":252,"y":0.2,"l":0.05,"h":0.34},
{"p":"b","s":"R","x":253,"y":0.5,"l":-0.2,"h":1.2},
{"p":"b","s":"R","x":255,"y":0.23,"l":0.0,"h":0.45},
{"p":"b","s":"R","x":260,"y":0.2,"l":0.06,"h":0.33},
{"p":"b","s":"R","x":280,"y":0.19,"l":0.06,"h":0.32},
{"p":"b","s":"R","x":300,"y":0.185,"l":0.06,"h":0.31}
],
"il": [
{"p":"a","s":"U","x":175.5,"y":2.4},{"p":"a","s":"U","x":177,"y":2.33},{"p":"a","s":"U","x":179,"y":2.3},{"p":"a","s":"U","x":185,"y":2.29},{"p":"a","s":"U","x":200,"y":2.27},{"p":"a","s":"U","x":220,"y":2.24},{"p":"a","s":"U","x":240,"y":2.21},{"p":"a","s":"U","x":260,"y":2.19},{"p":"a","s":"U","x":280,"y":2.17},{"p":"a","s":"U","x":295.8,"y":2.16},
{"p":"a","s":"S","x":175.5,"y":2.45},{"p":"a","s":"S","x":295.8,"y":2.45},
{"p":"a","s":"N","x":175.5,"y":2.42},{"p":"a","s":"N","x":185,"y":2.37},{"p":"a","s":"N","x":200.4,"y":2.32},{"p":"a","s":"N","x":215,"y":2.28},{"p":"a","s":"N","x":226,"y":2.24},{"p":"a","s":"N","x":228.6,"y":2.27},{"p":"a","s":"N","x":232,"y":2.24},{"p":"a","s":"N","x":237,"y":2.27},{"p":"a","s":"N","x":242.4,"y":2.24},{"p":"a","s":"N","x":247,"y":2.28},{"p":"a","s":"N","x":251.4,"y":2.47},{"p":"a","s":"N","x":254.6,"y":2.3},{"p":"a","s":"N","x":258,"y":2.33},{"p":"a","s":"N","x":261.1,"y":2.62},{"p":"a","s":"N","x":265.4,"y":2.29},{"p":"a","s":"N","x":268,"y":2.33},{"p":"a","s":"N","x":270.9,"y":2.5},{"p":"a","s":"N","x":274.9,"y":2.29},{"p":"a","s":"N","x":280,"y":2.27},{"p":"a","s":"N","x":284,"y":2.3},{"p":"a","s":"N","x":290,"y":2.25},{"p":"a","s":"N","x":295.8,"y":2.24},
{"p":"a","s":"R","x":175.5,"y":2.15},{"p":"a","s":"R","x":295.8,"y":2.15},
{"p":"b","s":"U","x":176.6,"y":2.91},{"p":"b","s":"U","x":179,"y":2.89},{"p":"b","s":"U","x":181,"y":2.86},{"p":"b","s":"U","x":185.3,"y":2.85},{"p":"b","s":"U","x":190,"y":2.8},{"p":"b","s":"U","x":196,"y":2.78},{"p":"b","s":"U","x":201.5,"y":2.73},{"p":"b","s":"U","x":206,"y":2.72},{"p":"b","s":"U","x":212.4,"y":2.68},{"p":"b","s":"U","x":218,"y":2.66},{"p":"b","s":"U","x":223.2,"y":2.63},{"p":"b","s":"U","x":230.8,"y":2.6},{"p":"b","s":"U","x":238,"y":2.58},{"p":"b","s":"U","x":248.1,"y":2.55},{"p":"b","s":"U","x":257,"y":2.52},{"p":"b","s":"U","x":266.5,"y":2.49},{"p":"b","s":"U","x":275,"y":2.47},{"p":"b","s":"U","x":282.8,"y":2.44},{"p":"b","s":"U","x":290,"y":2.42},{"p":"b","s":"U","x":296.9,"y":2.41},
{"p":"b","s":"S","x":176.6,"y":2.54},{"p":"b","s":"S","x":296.9,"y":2.54},
{"p":"b","s":"N","x":176.6,"y":2.94},{"p":"b","s":"N","x":181,"y":2.92},{"p":"b","s":"N","x":184,"y":2.95},
{"p":"b","s":"R","x":176.6,"y":2.44},{"p":"b","s":"R","x":190,"y":2.42},{"p":"b","s":"R","x":210,"y":2.4},{"p":"b","s":"R","x":230,"y":2.38},{"p":"b","s":"R","x":260,"y":2.37},{"p":"b","s":"R","x":296.9,"y":2.36}
],
"ib": [
{"p":"a","s":"U","x":175.5,"l":2.12,"h":2.42},{"p":"a","s":"U","x":185,"l":2.05,"h":2.36},{"p":"a","s":"U","x":220,"l":2.03,"h":2.34},{"p":"a","s":"U","x":295.8,"l":2.02,"h":2.32},
{"p":"a","s":"S","x":175.5,"l":2.43,"h":2.47},{"p":"a","s":"S","x":295.8,"l":2.43,"h":2.47},
{"p":"a","s":"N","x":175.5,"l":1.88,"h":2.93},{"p":"a","s":"N","x":185,"l":1.86,"h":2.88},{"p":"a","s":"N","x":195,"l":1.85,"h":2.8},{"p":"a","s":"N","x":205,"l":1.84,"h":2.72},{"p":"a","s":"N","x":215,"l":1.83,"h":2.66},{"p":"a","s":"N","x":222,"l":1.8,"h":2.8},{"p":"a","s":"N","x":228,"l":1.76,"h":2.93},{"p":"a","s":"N","x":235,"l":1.8,"h":2.93},{"p":"a","s":"N","x":242,"l":1.84,"h":2.78},{"p":"a","s":"N","x":248,"l":1.75,"h":2.93},{"p":"a","s":"N","x":255,"l":1.78,"h":2.85},{"p":"a","s":"N","x":262,"l":1.7,"h":2.93},{"p":"a","s":"N","x":268,"l":1.8,"h":2.93},{"p":"a","s":"N","x":275,"l":1.76,"h":2.72},{"p":"a","s":"N","x":282,"l":1.82,"h":2.62},{"p":"a","s":"N","x":288,"l":1.78,"h":2.66},{"p":"a","s":"N","x":295.8,"l":1.82,"h":2.6},
{"p":"a","s":"R","x":175.5,"l":2.0,"h":2.3},{"p":"a","s":"R","x":295.8,"l":2.0,"h":2.3},
{"p":"b","s":"U","x":176.6,"l":1.75,"h":2.95},{"p":"b","s":"U","x":184,"l":1.9,"h":2.95},{"p":"b","s":"U","x":190,"l":2.1,"h":2.95},{"p":"b","s":"U","x":200,"l":2.15,"h":2.9},{"p":"b","s":"U","x":220,"l":2.25,"h":2.8},{"p":"b","s":"U","x":250,"l":2.3,"h":2.7},{"p":"b","s":"U","x":296.9,"l":2.32,"h":2.6},
{"p":"b","s":"S","x":176.6,"l":2.52,"h":2.56},{"p":"b","s":"S","x":296.9,"l":2.52,"h":2.56},
{"p":"b","s":"N","x":176.6,"l":1.72,"h":2.95},{"p":"b","s":"N","x":182,"l":1.8,"h":2.95},{"p":"b","s":"N","x":188,"l":2.2,"h":2.95},{"p":"b","s":"N","x":193,"l":1.9,"h":2.95},{"p":"b","s":"N","x":200,"l":2.1,"h":2.95},{"p":"b","s":"N","x":206,"l":1.85,"h":2.95},{"p":"b","s":"N","x":212,"l":2.2,"h":2.95},{"p":"b","s":"N","x":218,"l":2.05,"h":2.95},{"p":"b","s":"N","x":225,"l":2.25,"h":2.95},{"p":"b","s":"N","x":232,"l":2.1,"h":2.95},{"p":"b","s":"N","x":240,"l":2.28,"h":2.95},{"p":"b","s":"N","x":246,"l":2.1,"h":2.95},{"p":"b","s":"N","x":252,"l":2.3,"h":2.95},{"p":"b","s":"N","x":258,"l":2.15,"h":2.95},{"p":"b","s":"N","x":266,"l":2.3,"h":2.95},{"p":"b","s":"N","x":272,"l":2.0,"h":2.95},{"p":"b","s":"N","x":278,"l":2.3,"h":2.95},{"p":"b","s":"N","x":284,"l":1.9,"h":2.95},{"p":"b","s":"N","x":290,"l":2.3,"h":2.95},{"p":"b","s":"N","x":296.9,"l":2.2,"h":2.95},
{"p":"b","s":"R","x":176.6,"l":2.16,"h":2.32},{"p":"b","s":"R","x":296.9,"l":2.12,"h":2.3}
],
"box": [
{"p":"a","x":175.5,"x2":295.8,"y":1.66,"y2":2.93},
{"p":"b","x":176.6,"x2":296.9,"y":1.66,"y2":2.95}
],
"zr": [
{"p":"a","x":260,"x2":300,"y":-0.18,"y2":0.52},
{"p":"b","x":261,"x2":300,"y":-0.18,"y2":0.52}
],
"tk": [
{"p":"a","x":173.3,"x2":175.5,"y":2.76,"y2":2.76},{"p":"a","x":173.3,"x2":175.5,"y":2.39,"y2":2.39},{"p":"a","x":173.3,"x2":175.5,"y":2.02,"y2":2.02},
{"p":"a","x":207,"x2":207,"y":1.61,"y2":1.66},{"p":"a","x":238,"x2":238,"y":1.61,"y2":1.66},{"p":"a","x":269,"x2":269,"y":1.61,"y2":1.66},
{"p":"b","x":174.4,"x2":176.6,"y":2.76,"y2":2.76},{"p":"b","x":174.4,"x2":176.6,"y":2.39,"y2":2.39},{"p":"b","x":174.4,"x2":176.6,"y":2.02,"y2":2.02},
{"p":"b","x":207,"x2":207,"y":1.61,"y2":1.66},{"p":"b","x":237,"x2":237,"y":1.61,"y2":1.66},{"p":"b","x":268,"x2":268,"y":1.61,"y2":1.66}
],
"cn": [
{"p":"a","k":"l","x":260,"y":0.52,"x2":175.5,"y2":1.66},
{"p":"a","k":"r","x":300,"y":0.52,"x2":295.8,"y2":1.66},
{"p":"b","k":"l","x":261,"y":0.52,"x2":176.6,"y2":1.66},
{"p":"b","k":"r","x":300,"y":0.52,"x2":296.9,"y2":1.66}
]
},
"resolve": {"scale": {"color": "independent"}, "legend": {"color": "independent"}},
"hconcat": [
{
"width": 277, "height": 206,
"title": {"text": "(a)\u00a0\u00a0\u2009Training losses on Cora", "dx": -24},
"layer": [
{"data": {"name": "m"}, "transform": [{"filter": "datum.p=='a'"}],
 "mark": {"type": "area", "opacity": 0.3, "clip": true},
 "encoding": {
  "x": {"field": "x", "type": "quantitative", "scale": {"domain": [0, 300], "nice": false, "zero": false}, "axis": {"values": [0, 50, 100, 150, 200, 250, 300], "title": "Epochs", "labelFlush": false, "labelOverlap": false}},
  "y": {"field": "l", "type": "quantitative", "scale": {"domain": [-0.2, 3.0], "nice": false, "zero": false}, "axis": {"tickCount": 7, "format": ".1f", "title": "Loss", "labelOverlap": false, "labelSeparation": 0}},
  "y2": {"field": "h"},
  "fill": {"field": "s", "type": "nominal", "scale": {"domain": ["U", "S", "N", "R"], "range": ["#1f77b4", "#ff7f0e", "#2ca02c", "#d62728"]}, "legend": null}}},
{"data": {"name": "m"}, "transform": [{"filter": "datum.p=='a'"}],
 "mark": {"type": "line", "strokeWidth": 1.3, "clip": true},
 "encoding": {
  "x": {"field": "x", "type": "quantitative"},
  "y": {"field": "y", "type": "quantitative"},
  "color": {"field": "s", "type": "nominal", "scale": {"domain": ["U", "S", "N", "R"], "range": ["#1f77b4", "#ff7f0e", "#2ca02c", "#d62728"]},
   "legend": {"orient": "top-left", "offset": 5, "title": null, "labelExpr": "{'U':'Unconstraind','S':'Standard Symp','N':'Neural Symp Form','R':'Riemannian Opt (Ours)'}[datum.label]"}}}},
{"data": {"name": "box"}, "transform": [{"filter": "datum.p=='a'"}],
 "mark": {"type": "rect", "fill": "white", "stroke": "black", "strokeWidth": 0.8},
 "encoding": {"x": {"field": "x", "type": "quantitative"}, "x2": {"field": "x2"}, "y": {"field": "y", "type": "quantitative"}, "y2": {"field": "y2"}}},
{"data": {"name": "ib"}, "transform": [{"filter": "datum.p=='a'"}],
 "mark": {"type": "area", "opacity": 0.3},
 "encoding": {"x": {"field": "x", "type": "quantitative"}, "y": {"field": "l", "type": "quantitative"}, "y2": {"field": "h"},
  "fill": {"field": "s", "type": "nominal", "scale": {"domain": ["U", "S", "N", "R"], "range": ["#1f77b4", "#ff7f0e", "#2ca02c", "#d62728"]}, "legend": null}}},
{"data": {"name": "il"}, "transform": [{"filter": "datum.p=='a'"}],
 "mark": {"type": "line", "strokeWidth": 1.3},
 "encoding": {"x": {"field": "x", "type": "quantitative"}, "y": {"field": "y", "type": "quantitative"},
  "color": {"field": "s", "type": "nominal", "scale": {"domain": ["U", "S", "N", "R"], "range": ["#1f77b4", "#ff7f0e", "#2ca02c", "#d62728"]}}}},
{"data": {"name": "tk"}, "transform": [{"filter": "datum.p=='a'"}],
 "mark": {"type": "rule", "color": "black", "strokeWidth": 0.8},
 "encoding": {"x": {"field": "x", "type": "quantitative"}, "x2": {"field": "x2"}, "y": {"field": "y", "type": "quantitative"}, "y2": {"field": "y2"}}},
{"data": {"name": "zr"}, "transform": [{"filter": "datum.p=='a'"}],
 "mark": {"type": "rect", "fillOpacity": 0, "stroke": "#ff1a1a", "strokeWidth": 1, "strokeDash": [3, 2]},
 "encoding": {"x": {"field": "x", "type": "quantitative"}, "x2": {"field": "x2"}, "y": {"field": "y", "type": "quantitative"}, "y2": {"field": "y2"}}},
{"data": {"name": "cn"}, "transform": [{"filter": "datum.p=='a' && datum.k=='l'"}],
 "mark": {"type": "rule", "color": "#ff1a1a", "strokeWidth": 0.8},
 "encoding": {"x": {"field": "x", "type": "quantitative"}, "x2": {"field": "x2"}, "y": {"field": "y", "type": "quantitative"}, "y2": {"field": "y2"}}},
{"data": {"name": "cn"}, "transform": [{"filter": "datum.p=='a' && datum.k=='r'"}],
 "mark": {"type": "rule", "color": "#ff1a1a", "strokeWidth": 0.8, "strokeDash": [3, 2]},
 "encoding": {"x": {"field": "x", "type": "quantitative"}, "x2": {"field": "x2"}, "y": {"field": "y", "type": "quantitative"}, "y2": {"field": "y2"}}},
{"data": {"name": "cn"}, "transform": [{"filter": "datum.p=='a' && datum.k=='l'"}],
 "mark": {"type": "point", "shape": "triangle-up", "filled": true, "color": "#ff1a1a", "size": 18, "angle": 313, "opacity": 1},
 "encoding": {"x": {"field": "x2", "type": "quantitative"}, "y": {"field": "y2", "type": "quantitative"}}},
{"data": {"name": "cn"}, "transform": [{"filter": "datum.p=='a' && datum.k=='r'"}],
 "mark": {"type": "point", "shape": "triangle-up", "filled": true, "color": "#ff1a1a", "size": 18, "opacity": 1},
 "encoding": {"x": {"field": "x2", "type": "quantitative"}, "y": {"field": "y2", "type": "quantitative"}}}
]
},
{
"width": 277, "height": 206,
"title": {"text": "(b)\u00a0\u00a0\u2009Training losses on CiteSeer", "dx": 2, "fontSize": 22.5},
"layer": [
{"data": {"name": "m"}, "transform": [{"filter": "datum.p=='b'"}],
 "mark": {"type": "area", "opacity": 0.3, "clip": true},
 "encoding": {
  "x": {"field": "x", "type": "quantitative", "scale": {"domain": [0, 300], "nice": false, "zero": false}, "axis": {"values": [0, 50, 100, 150, 200, 250, 300], "title": "Epochs", "labelFlush": false, "labelOverlap": false}},
  "y": {"field": "l", "type": "quantitative", "scale": {"domain": [-0.2, 3.0], "nice": false, "zero": false}, "axis": {"tickCount": 7, "format": ".1f", "title": "Loss", "labelOverlap": false, "labelSeparation": 0}},
  "y2": {"field": "h"},
  "fill": {"field": "s", "type": "nominal", "scale": {"domain": ["U", "S", "N", "R"], "range": ["#1f77b4", "#ff7f0e", "#2ca02c", "#d62728"]}, "legend": null}}},
{"data": {"name": "m"}, "transform": [{"filter": "datum.p=='b'"}],
 "mark": {"type": "line", "strokeWidth": 1.3, "clip": true},
 "encoding": {
  "x": {"field": "x", "type": "quantitative"},
  "y": {"field": "y", "type": "quantitative"},
  "color": {"field": "s", "type": "nominal", "scale": {"domain": ["U", "S", "N", "R"], "range": ["#1f77b4", "#ff7f0e", "#2ca02c", "#d62728"]},
   "legend": {"orient": "top-left", "offset": 5, "title": null, "labelExpr": "{'U':'Unconstraind','S':'Standard Symp','N':'Neural Symp Form','R':'Riemannian Opt (Ours)'}[datum.label]"}}}},
{"data": {"name": "box"}, "transform": [{"filter": "datum.p=='b'"}],
 "mark": {"type": "rect", "fill": "white", "stroke": "black", "strokeWidth": 0.8},
 "encoding": {"x": {"field": "x", "type": "quantitative"}, "x2": {"field": "x2"}, "y": {"field": "y", "type": "quantitative"}, "y2": {"field": "y2"}}},
{"data": {"name": "ib"}, "transform": [{"filter": "datum.p=='b'"}],
 "mark": {"type": "area", "opacity": 0.3},
 "encoding": {"x": {"field": "x", "type": "quantitative"}, "y": {"field": "l", "type": "quantitative"}, "y2": {"field": "h"},
  "fill": {"field": "s", "type": "nominal", "scale": {"domain": ["U", "S", "N", "R"], "range": ["#1f77b4", "#ff7f0e", "#2ca02c", "#d62728"]}, "legend": null}}},
{"data": {"name": "il"}, "transform": [{"filter": "datum.p=='b'"}],
 "mark": {"type": "line", "strokeWidth": 1.3},
 "encoding": {"x": {"field": "x", "type": "quantitative"}, "y": {"field": "y", "type": "quantitative"},
  "color": {"field": "s", "type": "nominal", "scale": {"domain": ["U", "S", "N", "R"], "range": ["#1f77b4", "#ff7f0e", "#2ca02c", "#d62728"]}}}},
{"data": {"name": "tk"}, "transform": [{"filter": "datum.p=='b'"}],
 "mark": {"type": "rule", "color": "black", "strokeWidth": 0.8},
 "encoding": {"x": {"field": "x", "type": "quantitative"}, "x2": {"field": "x2"}, "y": {"field": "y", "type": "quantitative"}, "y2": {"field": "y2"}}},
{"data": {"name": "zr"}, "transform": [{"filter": "datum.p=='b'"}],
 "mark": {"type": "rect", "fillOpacity": 0, "stroke": "#ff1a1a", "strokeWidth": 1, "strokeDash": [3, 2]},
 "encoding": {"x": {"field": "x", "type": "quantitative"}, "x2": {"field": "x2"}, "y": {"field": "y", "type": "quantitative"}, "y2": {"field": "y2"}}},
{"data": {"name": "cn"}, "transform": [{"filter": "datum.p=='b' && datum.k=='l'"}],
 "mark": {"type": "rule", "color": "#ff1a1a", "strokeWidth": 0.8},
 "encoding": {"x": {"field": "x", "type": "quantitative"}, "x2": {"field": "x2"}, "y": {"field": "y", "type": "quantitative"}, "y2": {"field": "y2"}}},
{"data": {"name": "cn"}, "transform": [{"filter": "datum.p=='b' && datum.k=='r'"}],
 "mark": {"type": "rule", "color": "#ff1a1a", "strokeWidth": 0.8, "strokeDash": [3, 2]},
 "encoding": {"x": {"field": "x", "type": "quantitative"}, "x2": {"field": "x2"}, "y": {"field": "y", "type": "quantitative"}, "y2": {"field": "y2"}}},
{"data": {"name": "cn"}, "transform": [{"filter": "datum.p=='b' && datum.k=='l'"}],
 "mark": {"type": "point", "shape": "triangle-up", "filled": true, "color": "#ff1a1a", "size": 18, "angle": 313, "opacity": 1},
 "encoding": {"x": {"field": "x2", "type": "quantitative"}, "y": {"field": "y2", "type": "quantitative"}}},
{"data": {"name": "cn"}, "transform": [{"filter": "datum.p=='b' && datum.k=='r'"}],
 "mark": {"type": "point", "shape": "triangle-up", "filled": true, "color": "#ff1a1a", "size": 18, "opacity": 1},
 "encoding": {"x": {"field": "x2", "type": "quantitative"}, "y": {"field": "y2", "type": "quantitative"}}}
]
}
],
"config": {
 "view": {"stroke": "black", "strokeWidth": 0.8},
 "axis": {"grid": false, "domain": false, "tickColor": "black", "tickSize": 3.5, "tickWidth": 0.8, "labelFont": "DejaVu Sans", "labelFontSize": 8, "labelColor": "black", "labelPadding": 2, "labelOverlap": false, "titleFont": "DejaVu Sans", "titleFontSize": 7.5, "titleFontWeight": "normal", "titleColor": "black", "titlePadding": 3},
 "axisY": {"titlePadding": 0},
 "legend": {"symbolType": "M-2,0H2", "symbolSize": 100, "symbolStrokeWidth": 1.5, "symbolFillColor": "transparent", "fillColor": "white", "strokeColor": "#cccccc", "padding": 4, "cornerRadius": 2, "rowPadding": 1.8, "labelFont": "DejaVu Sans", "labelFontSize": 8.5, "labelColor": "black", "labelOffset": 13, "labelLimit": 200},
 "title": {"orient": "bottom", "anchor": "middle", "font": "Liberation Serif", "fontSize": 21.5, "fontWeight": "normal", "color": "black", "offset": 5}
}
}
